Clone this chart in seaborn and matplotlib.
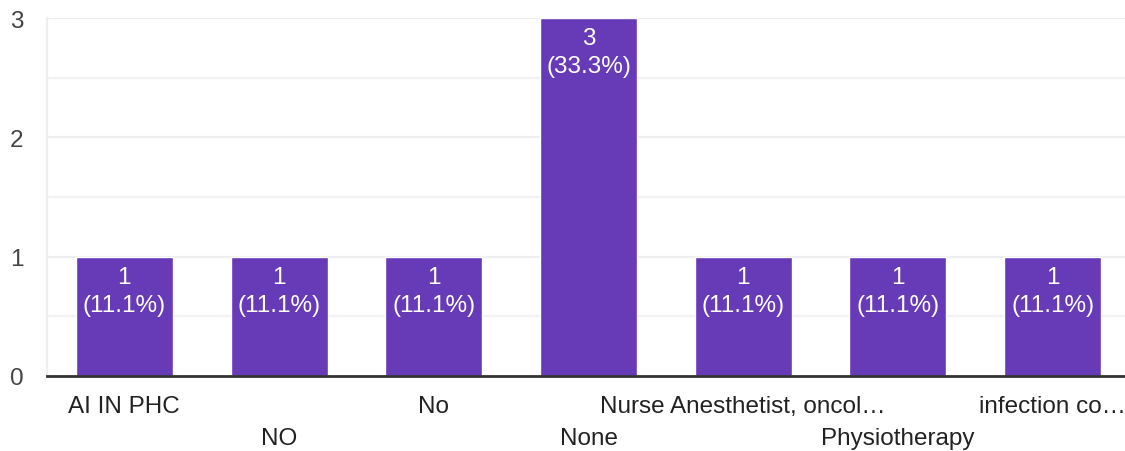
import matplotlib
matplotlib.use("Agg")
import matplotlib.pyplot as plt
import seaborn as sns

# data
categories = ["AI IN PHC", "NO", "No", "None",
              "Nurse Anesthetist, oncol\u2026", "Physiotherapy", "infection co\u2026"]
counts = [1, 1, 1, 3, 1, 1, 1]
total = sum(counts)

sns.set_style("white")
plt.rcParams['font.family'] = ['Liberation Sans', 'DejaVu Sans']

fig = plt.figure(figsize=(11.25, 4.52), dpi=100)
ax = fig.add_axes([47 / 1125, 75 / 452, 1083 / 1125, 358 / 452])

sns.barplot(x=categories, y=counts, color="#673ab7", saturation=1,
            width=0.627, ax=ax, zorder=3)

ax.set_ylim(0, 3)
ax.set_yticks([0, 1, 2, 3])
ax.set_yticks([0.5, 1.5, 2.5], minor=True)
ax.grid(axis='y', which='major', color='#eeeeee', lw=1.6, zorder=0)
ax.grid(axis='y', which='minor', color='#f2f2f2', lw=1.6, zorder=0)
ax.grid(axis='x', visible=False)

for s in ['top', 'right']:
    ax.spines[s].set_visible(False)
ax.spines['left'].set_color('#eeeeee')
ax.spines['left'].set_linewidth(1.6)
ax.spines['bottom'].set_color('#333333')
ax.spines['bottom'].set_linewidth(2)
ax.spines['bottom'].set_zorder(5)

ax.tick_params(axis='y', length=0, pad=17, labelsize=17.5, labelcolor='#444444')
ax.tick_params(axis='x', length=0, labelsize=17.5, labelcolor='#222222')
ax.set_xlabel("")
ax.set_ylabel("")

# alternate label rows
for i, tick in enumerate(ax.xaxis.get_major_ticks()):
    tick.set_pad(13.5 if i % 2 == 0 else 36.5)

# value labels inside bars
for i, c in enumerate(counts):
    ax.annotate(f"{c}\n({c / total * 100:.1f}%)", xy=(i, c), xytext=(0, -6.5),
                textcoords='offset points', ha='center', va='top',
                color='white', fontsize=17.5, linespacing=1.35, zorder=4)

fig.savefig("out.png", dpi=100)
